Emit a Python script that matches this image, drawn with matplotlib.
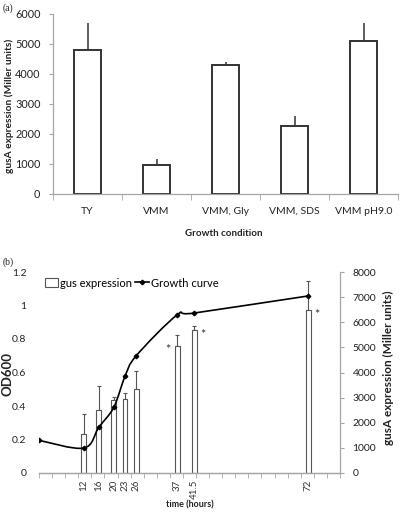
import numpy as np
import matplotlib
matplotlib.use('Agg')
import matplotlib.pyplot as plt
from matplotlib.path import Path
from matplotlib.patches import PathPatch, Patch
from matplotlib.lines import Line2D

plt.rcParams['font.family'] = ['Lato', 'DejaVu Sans']

# ---- data (a) ----
conditions = ['TY', 'VMM', 'VMM, Gly', 'VMM, SDS', 'VMM pH9.0']
cond_expr = [4800, 970, 4300, 2270, 5100]
cond_err = [900, 200, 110, 330, 600]

# ---- data (b) ----
times = [12, 16, 20, 23, 26, 37, 41.5, 72]
time_labels = ['12', '16', '20', '23', '26', '37', '41.5', '72']
gus_expr = [1550, 2500, 2920, 2960, 3340, 5070, 5680, 6480]
gus_err = [800, 950, 90, 220, 700, 430, 160, 1150]
growth_t = [0, 12, 16, 20, 23, 26, 37, 41.5, 72]
growth_od = [0.195, 0.149, 0.273, 0.392, 0.577, 0.70, 0.945, 0.955, 1.057]
signif_times = [37, 41.5, 72]
signif_side = [-1, 1, 1]

W, H = 400, 515
fig = plt.figure(figsize=(W / 100, H / 100), dpi=100)

def frac(l, t, r, b):
    return [l / W, 1 - b / H, (r - l) / W, (b - t) / H]

def ftext(px, py, s, **kw):
    return fig.text(px / W, 1 - py / H, s, ha='center', va='center', **kw)

GRAY = '#a6a6a6'
TXT = '#222222'

# ================= (a) =================
ax = fig.add_axes(frac(53, 14, 398, 194))
x = np.arange(len(conditions))
ax.bar(x, cond_expr, width=0.4, color='white', edgecolor='#333333', linewidth=1.4, zorder=2)
ax.errorbar(x, cond_expr, yerr=[np.zeros(len(x)), cond_err], fmt='none',
            ecolor='#333333', elinewidth=1.1, capsize=0, zorder=1)
ax.set_xlim(-0.5, len(conditions) - 0.5)
ax.set_ylim(0, 6000)
ax.set_yticks(np.arange(0, 6001, 1000))
ax.set_xticks(x)
ax.set_xticklabels(conditions)
ax.set_xticks(np.arange(-0.5, len(conditions), 1), minor=True)
ax.tick_params(axis='x', which='major', length=0, pad=9, labelsize=7.5, labelcolor=TXT)
ax.tick_params(axis='x', which='minor', length=4, color=GRAY, direction='out')
ax.tick_params(axis='y', length=3, color=GRAY, labelsize=7.8, labelcolor=TXT, pad=6)
for s in ['top', 'right']:
    ax.spines[s].set_visible(False)
for s in ['left', 'bottom']:
    ax.spines[s].set_color(GRAY)
    ax.spines[s].set_linewidth(0.9)
ftext(224, 233, 'Growth condition', fontsize=7, fontweight='bold', color=TXT)
ftext(9, 106, 'gusA expression (Miller units)', rotation=90, fontsize=7.3, fontweight='bold', color=TXT)
fig.text(3 / W, 1 - 8 / H, '(a)', fontsize=7, family=['Liberation Serif'], va='center', ha='left', color=TXT)

# ================= (b) =================
axb = fig.add_axes(frac(39, 272, 340, 473))
axr = axb.twinx()
axb.set_zorder(axr.get_zorder() + 1)
axb.patch.set_visible(False)

axr.bar(times, gus_expr, width=1.3, color='white', edgecolor='#555555', linewidth=0.8, zorder=2)
axr.errorbar(times, gus_expr, yerr=[np.zeros(len(times)), gus_err], fmt='none',
             ecolor='#555555', elinewidth=0.8, capsize=1.5, capthick=0.8, zorder=1)
axr.set_ylim(0, 8000)
axr.set_yticks(np.arange(0, 8001, 1000))

for t, side in zip(signif_times, signif_side):
    v = gus_expr[times.index(t)]
    axr.annotate('*', xy=(t, v), xytext=(side * 6.5, -3.5), textcoords='offset points',
                 ha='center', va='center', fontsize=9, color='#333333')

# smooth growth curve (Catmull-Rom -> cubic Bezier drawn by matplotlib Path)
P = np.column_stack([growth_t, growth_od])
verts = [P[0]]
codes = [Path.MOVETO]
n = len(P)
for i in range(n - 1):
    p0 = P[i - 1] if i > 0 else P[i]
    p1 = P[i]
    p2 = P[i + 1]
    p3 = P[i + 2] if i + 2 < n else P[i + 1]
    c1 = p1 + (p2 - p0) / 6.0
    c2 = p2 - (p3 - p1) / 6.0
    verts += [c1, c2, p2]
    codes += [Path.CURVE4] * 3
axb.add_patch(PathPatch(Path(verts, codes), facecolor='none', edgecolor='black', linewidth=1.2, zorder=3))
axb.plot(growth_t, growth_od, linestyle='none', marker='D', markersize=2.3, color='black', zorder=4)

axb.set_xlim(0, 80.5)
axb.set_ylim(0, 1.2)
axb.set_yticks(np.arange(0, 1.21, 0.2))
axb.set_yticklabels(['0', '0.2', '0.4', '0.6', '0.8', '1', '1.2'])
axb.set_xticks(times)
axb.set_xticklabels(time_labels, rotation=90)
axb.set_xticks(np.arange(0, 80.6, 3.5), minor=True)
axb.tick_params(axis='x', which='major', length=0, pad=5, labelsize=7, labelcolor='#333333')
axb.tick_params(axis='x', which='minor', length=3.5, color=GRAY, direction='out')
axb.tick_params(axis='y', length=0, labelsize=7.5, labelcolor=TXT, pad=9)
axr.tick_params(axis='y', length=3, color=GRAY, labelsize=7.5, labelcolor=TXT, pad=6)

for a in (axb, axr):
    for s in ['top', 'left']:
        a.spines[s].set_visible(False)
    a.spines['right'].set_color(GRAY)
    a.spines['bottom'].set_color(GRAY)
    a.spines['right'].set_linewidth(0.9)
    a.spines['bottom'].set_linewidth(0.9)
axb.spines['right'].set_visible(False)

ftext(190, 505, 'time (hours)', fontsize=6.5, fontweight='bold', color=TXT)
ftext(7.5, 374, 'OD600', rotation=90, fontsize=9.5, fontweight='bold', color=TXT)
ftext(388, 368, 'gusA expression (Miller units)', rotation=90, fontsize=8.5, fontweight='bold', color=TXT)
fig.text(3 / W, 1 - 262 / H, '(b)', fontsize=7, family=['Liberation Serif'], va='center', ha='left', color=TXT)

handles = [Patch(facecolor='white', edgecolor='#555555', linewidth=0.8),
           Line2D([0], [0], color='black', lw=1.2, marker='D', markersize=2.3)]
axb.legend(handles, ['gus expression', 'Growth curve'], loc='upper left', ncol=2,
           frameon=False, fontsize=8, handlelength=1.2, handleheight=0.9, handletextpad=0.2,
           columnspacing=0.3, borderaxespad=0.1, bbox_to_anchor=(0.0, 1.0))

fig.savefig('out.png', dpi=100)
